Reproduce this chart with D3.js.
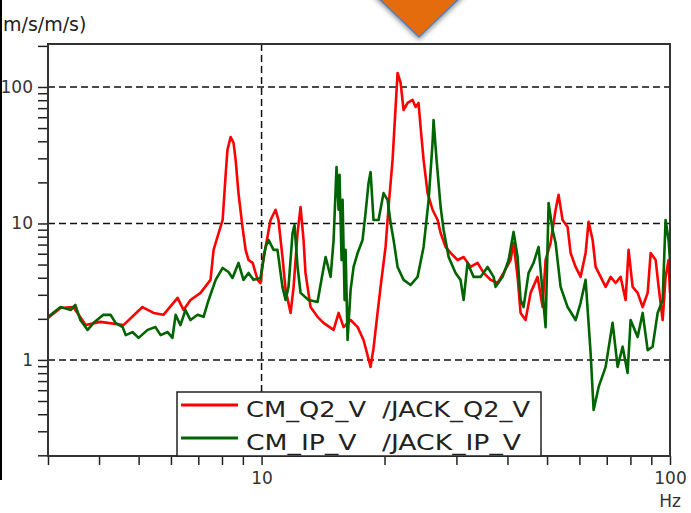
<!DOCTYPE html>
<html>
<head>
<meta charset="utf-8">
<script src="https://cdn.jsdelivr.net/npm/d3@7"></script>
<style>
  body { margin: 0; background: #fff; }
  svg { display: block; }
  .axis text { font-family: "DejaVu Sans", sans-serif; font-size: 17px; fill: #333; }
  .axis line { stroke: #222; stroke-width: 1.5; }
  .axis path { display: none; }
</style>
</head>
<body>
<div id="chart"></div>
<script>
// Frequency response CM / JACK
const redFreq = [3.0,3.22,3.46,3.71,4.03,4.59,5.11,5.44,5.75,6.23,6.44,6.70,7.09,7.50,7.63,7.80,8.03,8.16,8.25,8.40,
  8.54,8.64,8.78,8.98,9.14,9.29,9.51,9.78,9.94,10.11,10.23,10.52,10.82,11.00,11.25,11.45,11.78,11.98,12.25,12.46,
  12.67,12.81,13.18,13.71,14.18,15.01,15.44,15.88,16.52,17.19,17.77,18.49,18.80,19.23,19.56,20.12,20.46,20.93,21.29,21.53,
  21.90,22.27,22.78,23.43,23.83,24.23,24.51,24.93,25.50,26.22,26.98,27.44,28.22,29.03,30.20,31.24,32.49,33.80,34.97,36.37,
  37.84,39.14,40.71,41.40,42.35,43.07,44.30,45.57,47.40,48.76,49.59,51.01,52.47,53.36,54.58,56.14,57.10,58.74,60.41,62.14,
  63.20,64.65,65.75,67.64,69.57,71.56,73.59,75.69,77.86,79.18,81.00,83.33,85.71,88.17,89.67,92.22,93.79,95.94,97.54,99.2,100];
const redVals = [2.03,2.40,2.44,1.80,1.90,1.80,2.44,2.21,2.14,2.85,2.32,2.75,3.10,3.86,6.40,7.96,10.6,21.9,34.6,43.0,
  38.9,29.2,16.7,9.43,6.40,5.40,5.14,3.86,3.66,5.68,6.73,10.6,12.6,10.6,5.68,3.26,2.21,3.43,8.52,13.2,
  7.57,4.34,2.44,2.07,1.87,1.66,2.21,1.74,1.96,1.74,1.40,0.889,1.22,2.21,3.43,6.73,13.2,29.2,71.4,126.6,
  107,67.8,76.4,80.3,71.4,76.4,50.9,29.2,16.7,12.6,10.6,8.52,6.73,6.08,5.40,5.68,4.80,5.14,4.34,3.86,
  3.66,4.34,5.40,7.20,4.06,2.21,1.96,3.10,4.06,2.44,5.40,7.20,12.6,16.2,10.6,9.43,6.08,4.80,4.06,6.08,
  10.3,7.57,4.80,4.06,3.43,4.06,3.66,4.06,2.75,6.40,3.43,3.10,2.44,3.10,6.08,5.40,3.43,1.96,4.06,5.40,3.10];

const greenFreq = [3.0,3.22,3.41,3.50,3.60,3.75,3.88,4.10,4.27,4.39,4.57,4.65,4.83,5.00,5.26,5.50,5.66,5.89,6.05,6.16,
  6.33,6.51,6.70,6.97,7.21,7.42,7.72,8.03,8.30,8.49,8.78,9.03,9.29,9.56,9.94,10.23,10.40,10.70,10.94,11.25,
  11.45,11.64,11.91,12.04,12.25,12.46,13.03,13.71,14.11,14.35,14.76,15.01,15.26,15.44,15.52,15.70,15.79,15.97,16.06,16.24,
  16.52,16.80,17.19,17.67,17.97,18.28,18.49,18.80,19.34,19.89,20.35,20.70,21.05,21.53,22.27,23.17,24.10,24.93,25.65,26.22,
  26.37,26.82,27.44,27.91,28.71,29.85,30.70,31.24,31.94,33.05,34.38,35.76,36.99,37.41,38.92,40.26,41.40,42.35,43.07,43.80,
  45.06,46.34,47.67,49.59,50.44,51.59,52.47,53.97,56.14,58.74,60.41,62.14,63.91,65.01,66.88,69.57,72.36,74.43,76.56,78.74,
  80.09,83.33,85.71,88.17,90.66,93.27,95.94,97.54,99.2,100];
const greenVals = [2.07,2.44,2.32,2.53,1.96,1.66,1.87,2.14,2.14,1.87,1.74,1.52,1.60,1.45,1.66,1.74,1.52,1.60,1.45,2.14,
  1.80,2.32,1.96,2.14,2.07,2.75,3.86,4.72,4.41,3.99,5.14,3.86,4.34,3.86,3.99,6.73,7.57,6.40,6.40,3.43,
  2.75,3.43,8.52,9.75,4.80,3.10,2.75,2.66,4.34,5.68,4.06,7.57,25.9,12.6,22.7,5.40,14.9,2.75,6.40,1.40,
  3.26,4.80,6.08,7.57,11.9,19.8,23.8,10.6,10.6,16.7,14.9,10.1,7.57,4.80,3.86,3.54,4.06,6.73,14.9,38.9,
  57.3,29.2,13.2,8.96,5.68,4.34,3.86,2.75,5.14,4.06,4.06,4.80,4.06,3.43,4.06,5.40,8.67,5.68,2.75,2.44,
  4.34,5.14,6.73,1.74,14.1,8.96,7.20,3.43,2.44,1.96,2.62,3.86,1.13,0.430,0.634,0.889,1.87,0.889,1.25,0.803,
  1.96,1.47,2.21,1.18,1.25,2.21,2.75,10.6,7.57,5.40];

const xTicks = [3,4,5,6,7,8,9,10,20,30,40,50,60,70,80,90,100];
const xLabels = [10, 100];
const yTicks = [0.2,0.3,0.4,0.5,0.6,0.7,0.8,0.9,1,2,3,4,5,6,7,8,9,10,20,30,40,50,60,70,80,90,100,200];
const yLabels = [1, 10, 100];
const seriesNames = ["CM_Q2_V  /JACK_Q2_V", "CM_IP_V   /JACK_IP_V"];
const seriesColors = ["#ff0000", "#006400"];

const W = 691, H = 513;
const pLeft = 48, pRight = 670, pTop = 44, pBottom = 456;

const svg = d3.select("#chart").append("svg").attr("width", W).attr("height", H);

const x = d3.scaleLog().domain([3, 100]).range([pLeft, pRight]);
const y = d3.scaleLog().domain([0.1977, 206.5]).range([pBottom, pTop]);

svg.append("clipPath").attr("id", "plot")
  .append("rect").attr("x", pLeft).attr("y", pTop).attr("width", pRight - pLeft).attr("height", pBottom - pTop);

// dashed grid at decades
svg.append("g").selectAll("line").data(yLabels).join("line")
  .attr("x1", pLeft).attr("x2", pRight)
  .attr("y1", d => y(d)).attr("y2", d => y(d))
  .attr("stroke", "#111").attr("stroke-width", 1.5).attr("stroke-dasharray", "7,4");
svg.append("line")
  .attr("x1", x(10)).attr("x2", x(10)).attr("y1", pTop).attr("y2", pBottom)
  .attr("stroke", "#111").attr("stroke-width", 1.5).attr("stroke-dasharray", "7,4");

// curves
const line = d3.line().x(d => x(d[0])).y(d => y(d[1]));
const series = [d3.zip(redFreq, redVals), d3.zip(greenFreq, greenVals)];
svg.append("g").attr("clip-path", "url(#plot)")
  .selectAll("path").data(series).join("path")
  .attr("d", line)
  .attr("fill", "none")
  .attr("stroke", (d, i) => seriesColors[i])
  .attr("stroke-width", 2.6)
  .attr("stroke-linejoin", "round");

// axes
svg.append("g").attr("class", "axis")
  .attr("transform", `translate(${pLeft},0)`)
  .call(d3.axisLeft(y).tickValues(yTicks).tickSize(10).tickPadding(5)
    .tickFormat(d => yLabels.includes(d) ? d : ""));
svg.append("g").attr("class", "axis")
  .attr("transform", `translate(0,${pBottom})`)
  .call(d3.axisBottom(x).tickValues(xTicks).tickSize(9).tickPadding(7)
    .tickFormat(d => xLabels.includes(d) ? d : ""));

// frame
svg.append("rect")
  .attr("x", pLeft).attr("y", pTop).attr("width", pRight - pLeft).attr("height", pBottom - pTop)
  .attr("fill", "none").attr("stroke", "#333").attr("stroke-width", 2);

// legend
const lg = svg.append("g").attr("transform", "translate(177,392)");
lg.append("rect").attr("width", 364).attr("height", pBottom - 392)
  .attr("fill", "#fff").attr("stroke", "#222").attr("stroke-width", 1.5);
seriesNames.forEach((name, i) => {
  lg.append("line").attr("x1", 4).attr("x2", 61)
    .attr("y1", 13 + i * 33).attr("y2", 13 + i * 33)
    .attr("stroke", seriesColors[i]).attr("stroke-width", 3);
  lg.append("text").attr("x", 69).attr("y", 25 + i * 33)
    .attr("textLength", i === 0 ? 284 : 275).attr("lengthAdjust", "spacingAndGlyphs")
    .style("white-space", "pre")
    .style("font-family", "DejaVu Sans, sans-serif").style("font-size", "22px").style("fill", "#222")
    .text(name);
});

// units
svg.append("text").attr("x", pRight).attr("y", 507).attr("text-anchor", "middle")
  .style("font-family", "DejaVu Sans, sans-serif").style("font-size", "17px").style("fill", "#333")
  .text("Hz");
svg.append("text").attr("x", 3).attr("y", 31)
  .style("font-family", "DejaVu Sans, sans-serif").style("font-size", "19px").style("fill", "#222")
  .text("m/s/m/s)");

// black strip on the left edge
svg.append("rect").attr("x", 0).attr("y", 0).attr("width", 2).attr("height", 480).attr("fill", "#000");

// orange marker at the top
const defs = svg.append("defs");
const f = defs.append("filter").attr("id", "shadow").attr("x", "-30%").attr("y", "-30%").attr("width", "160%").attr("height", "160%");
f.append("feDropShadow").attr("dx", 0).attr("dy", 2).attr("stdDeviation", 2.5).attr("flood-color", "#000").attr("flood-opacity", 0.45);
svg.append("polygon")
  .attr("points", "374,-6 464,-6 419,37")
  .attr("fill", "#e46c0a").attr("stroke", "#4f81bd").attr("stroke-width", 1.5)
  .attr("filter", "url(#shadow)");
</script>
</body>
</html>
